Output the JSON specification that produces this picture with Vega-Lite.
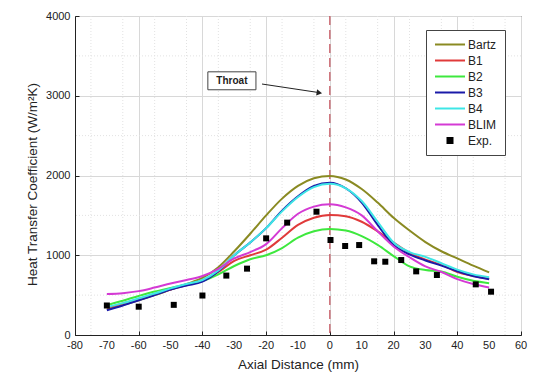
{
  "$schema": "https://vega.github.io/schema/vega-lite/v6.json",
  "width": 446,
  "height": 319,
  "autosize": {"type": "none"},
  "padding": {"left": 75, "top": 16, "right": 15, "bottom": 43},
  "background": "white",
  "config": {
    "font": "Liberation Sans",
    "view": {"stroke": "#222", "strokeWidth": 1},
    "axis": {"domainColor": "#222", "tickColor": "#222", "labelColor": "#222", "titleColor": "#222", "gridColor": "#d8d8d8", "labelFontSize": 11, "titleFontSize": 13.5, "titleFontWeight": "normal", "labelOverlap": false}
  },
  "datasets": {
    "curves": [
      {"s":"Bartz","x":-70,"v":320},{"s":"Bartz","x":-65,"v":375},{"s":"Bartz","x":-60,"v":435},{"s":"Bartz","x":-55,"v":500},{"s":"Bartz","x":-50,"v":570},{"s":"Bartz","x":-45,"v":640},{"s":"Bartz","x":-40,"v":715},{"s":"Bartz","x":-35,"v":850},{"s":"Bartz","x":-30,"v":1050},{"s":"Bartz","x":-25,"v":1270},{"s":"Bartz","x":-20,"v":1500},{"s":"Bartz","x":-15,"v":1710},{"s":"Bartz","x":-10,"v":1870},{"s":"Bartz","x":-5,"v":1965},{"s":"Bartz","x":0,"v":1995},{"s":"Bartz","x":5,"v":1950},{"s":"Bartz","x":10,"v":1830},{"s":"Bartz","x":15,"v":1660},{"s":"Bartz","x":20,"v":1470},{"s":"Bartz","x":25,"v":1310},{"s":"Bartz","x":30,"v":1165},{"s":"Bartz","x":35,"v":1050},{"s":"Bartz","x":40,"v":960},{"s":"Bartz","x":45,"v":870},{"s":"Bartz","x":50,"v":785},
      {"s":"B1","x":-70,"v":340},{"s":"B1","x":-65,"v":395},{"s":"B1","x":-60,"v":450},{"s":"B1","x":-55,"v":510},{"s":"B1","x":-50,"v":570},{"s":"B1","x":-45,"v":625},{"s":"B1","x":-40,"v":685},{"s":"B1","x":-35,"v":790},{"s":"B1","x":-30,"v":930},{"s":"B1","x":-25,"v":1000},{"s":"B1","x":-20,"v":1070},{"s":"B1","x":-15,"v":1220},{"s":"B1","x":-10,"v":1380},{"s":"B1","x":-5,"v":1470},{"s":"B1","x":0,"v":1505},{"s":"B1","x":5,"v":1490},{"s":"B1","x":10,"v":1420},{"s":"B1","x":15,"v":1300},{"s":"B1","x":20,"v":1160},{"s":"B1","x":25,"v":1030},{"s":"B1","x":30,"v":945},{"s":"B1","x":35,"v":880},{"s":"B1","x":40,"v":790},{"s":"B1","x":45,"v":740},{"s":"B1","x":50,"v":705},
      {"s":"B2","x":-70,"v":375},{"s":"B2","x":-65,"v":430},{"s":"B2","x":-60,"v":490},{"s":"B2","x":-55,"v":545},{"s":"B2","x":-50,"v":590},{"s":"B2","x":-45,"v":635},{"s":"B2","x":-40,"v":675},{"s":"B2","x":-35,"v":760},{"s":"B2","x":-30,"v":865},{"s":"B2","x":-25,"v":950},{"s":"B2","x":-20,"v":1000},{"s":"B2","x":-15,"v":1090},{"s":"B2","x":-10,"v":1220},{"s":"B2","x":-5,"v":1300},{"s":"B2","x":0,"v":1330},{"s":"B2","x":5,"v":1310},{"s":"B2","x":10,"v":1240},{"s":"B2","x":15,"v":1130},{"s":"B2","x":20,"v":990},{"s":"B2","x":25,"v":860},{"s":"B2","x":30,"v":815},{"s":"B2","x":35,"v":795},{"s":"B2","x":40,"v":730},{"s":"B2","x":45,"v":680},{"s":"B2","x":50,"v":650},
      {"s":"B3","x":-70,"v":310},{"s":"B3","x":-65,"v":370},{"s":"B3","x":-60,"v":435},{"s":"B3","x":-55,"v":500},{"s":"B3","x":-50,"v":570},{"s":"B3","x":-45,"v":620},{"s":"B3","x":-40,"v":670},{"s":"B3","x":-35,"v":800},{"s":"B3","x":-30,"v":1000},{"s":"B3","x":-25,"v":1160},{"s":"B3","x":-20,"v":1340},{"s":"B3","x":-15,"v":1560},{"s":"B3","x":-10,"v":1740},{"s":"B3","x":-5,"v":1870},{"s":"B3","x":0,"v":1910},{"s":"B3","x":5,"v":1840},{"s":"B3","x":10,"v":1660},{"s":"B3","x":15,"v":1380},{"s":"B3","x":20,"v":1130},{"s":"B3","x":25,"v":1010},{"s":"B3","x":30,"v":935},{"s":"B3","x":35,"v":870},{"s":"B3","x":40,"v":800},{"s":"B3","x":45,"v":740},{"s":"B3","x":50,"v":700},
      {"s":"B4","x":-70,"v":350},{"s":"B4","x":-65,"v":400},{"s":"B4","x":-60,"v":460},{"s":"B4","x":-55,"v":520},{"s":"B4","x":-50,"v":585},{"s":"B4","x":-45,"v":640},{"s":"B4","x":-40,"v":690},{"s":"B4","x":-35,"v":810},{"s":"B4","x":-30,"v":1000},{"s":"B4","x":-25,"v":1160},{"s":"B4","x":-20,"v":1340},{"s":"B4","x":-15,"v":1550},{"s":"B4","x":-10,"v":1730},{"s":"B4","x":-5,"v":1855},{"s":"B4","x":0,"v":1895},{"s":"B4","x":5,"v":1840},{"s":"B4","x":10,"v":1680},{"s":"B4","x":15,"v":1420},{"s":"B4","x":20,"v":1160},{"s":"B4","x":25,"v":1040},{"s":"B4","x":30,"v":980},{"s":"B4","x":35,"v":900},{"s":"B4","x":40,"v":820},{"s":"B4","x":45,"v":760},{"s":"B4","x":50,"v":725},
      {"s":"BLIM","x":-70,"v":515},{"s":"BLIM","x":-65,"v":525},{"s":"BLIM","x":-60,"v":550},{"s":"BLIM","x":-55,"v":595},{"s":"BLIM","x":-50,"v":645},{"s":"BLIM","x":-45,"v":690},{"s":"BLIM","x":-40,"v":740},{"s":"BLIM","x":-35,"v":830},{"s":"BLIM","x":-30,"v":960},{"s":"BLIM","x":-25,"v":1040},{"s":"BLIM","x":-20,"v":1140},{"s":"BLIM","x":-15,"v":1340},{"s":"BLIM","x":-10,"v":1520},{"s":"BLIM","x":-5,"v":1610},{"s":"BLIM","x":0,"v":1640},{"s":"BLIM","x":5,"v":1600},{"s":"BLIM","x":10,"v":1500},{"s":"BLIM","x":15,"v":1300},{"s":"BLIM","x":20,"v":1110},{"s":"BLIM","x":25,"v":975},{"s":"BLIM","x":30,"v":860},{"s":"BLIM","x":35,"v":790},{"s":"BLIM","x":40,"v":700},{"s":"BLIM","x":45,"v":640},{"s":"BLIM","x":50,"v":595}
    ],
    "exp": [
      {"x":-70,"v":370},{"x":-60,"v":355},{"x":-49,"v":378},{"x":-40,"v":495},{"x":-32.5,"v":745},{"x":-26,"v":832},{"x":-20,"v":1212},{"x":-13.4,"v":1409},{"x":-4.2,"v":1546},{"x":0.2,"v":1191},{"x":4.8,"v":1116},{"x":9.2,"v":1128},{"x":13.9,"v":924},{"x":17.4,"v":919},{"x":22.4,"v":940},{"x":27.1,"v":798},{"x":33.6,"v":752},{"x":45.8,"v":635},{"x":50.6,"v":543}
    ],
    "xlabels": [
      {"x":-80,"v":0,"t":"-80"},{"x":-70,"v":0,"t":"-70"},{"x":-60,"v":0,"t":"-60"},{"x":-50,"v":0,"t":"-50"},{"x":-40,"v":0,"t":"-40"},{"x":-30,"v":0,"t":"-30"},{"x":-20,"v":0,"t":"-20"},{"x":-10,"v":0,"t":"-10"},{"x":0,"v":0,"t":"0"},{"x":10,"v":0,"t":"10"},{"x":20,"v":0,"t":"20"},{"x":30,"v":0,"t":"30"},{"x":40,"v":0,"t":"40"},{"x":50,"v":0,"t":"50"},{"x":60,"v":0,"t":"60"}
    ]
  },
  "layer": [
    {
      "data": {"values": [{"x": -75}, {"x": -65}, {"x": -55}, {"x": -45}, {"x": -35}, {"x": -25}, {"x": -15}, {"x": -5}, {"x": 5}, {"x": 15}, {"x": 25}, {"x": 35}, {"x": 45}, {"x": 55}]},
      "mark": {"type": "rule", "color": "#e2e2e2", "strokeDash": [1, 2], "strokeWidth": 1},
      "encoding": {"x": {"field": "x", "type": "quantitative", "scale": {"domain": [-80, 60], "nice": false},
        "axis": {"title": "Axial Distance (mm)", "values": [-80,-70,-60,-50,-40,-30,-20,-10,0,10,20,30,40,50,60],
          "labels": false, "tickSize": -4, "titleY": 22, "titleBaseline": "top"}}}
    },
    {
      "data": {"values": [{"v": 500}, {"v": 1500}, {"v": 2500}, {"v": 3500}]},
      "mark": {"type": "rule", "color": "#e2e2e2", "strokeDash": [1, 2], "strokeWidth": 1},
      "encoding": {"y": {"field": "v", "type": "quantitative", "scale": {"domain": [0, 4000], "nice": false},
        "axis": {"title": "Heat Transfer Coefficient (W/m²K)", "values": [0,1000,2000,3000,4000],
          "labelOverlap": false, "format": "d", "tickSize": -4, "labelPadding": 9,
          "titleX": -43, "titleY": 168, "titleBaseline": "middle", "titleAngle": -90, "titleAlign": "center"}}}
    },
    {
      "data": {"name": "xlabels"},
      "mark": {"type": "text", "fontSize": 11, "color": "#222", "dy": 11, "baseline": "middle", "clip": false},
      "encoding": {"x": {"field": "x", "type": "quantitative"}, "y": {"field": "v", "type": "quantitative"}, "text": {"field": "t"}}
    },
    {
      "data": {"values": [{"x": 0}]},
      "mark": {"type": "rule", "color": "#c04a55", "strokeDash": [9, 5], "strokeWidth": 1.2},
      "encoding": {"x": {"field": "x", "type": "quantitative"}}
    },
    {
      "data": {"name": "curves"},
      "mark": {"type": "line", "interpolate": "monotone", "strokeWidth": 2},
      "encoding": {
        "x": {"field": "x", "type": "quantitative"},
        "y": {"field": "v", "type": "quantitative"},
        "color": {"field": "s", "type": "nominal",
          "scale": {"domain": ["Bartz","B1","B2","B3","B4","BLIM","Exp."], "range": ["#8a8a22","#e03a3a","#3ee83e","#1a1aa8","#3ee6e6","#d43ad4","#000000"]},
          "legend": {"orient": "none", "legendX": 351, "legendY": 14, "title": null, "strokeColor": "#444", "fillColor": "white", "padding": 8,
            "symbolType": "stroke", "symbolSize": 900, "symbolStrokeWidth": 2, "labelFontSize": 12, "labelOffset": 2, "rowPadding": 3, "clipHeight": 13, "labelColor": "#222",
            "encode": {"symbols": {"update": {
              "shape": {"signal": "datum.value === 'Exp.' ? 'square' : 'stroke'"},
              "size": {"signal": "datum.value === 'Exp.' ? 25 : 900"},
              "fill": {"signal": "datum.value === 'Exp.' ? 'black' : 'transparent'"}}}}}}
      }
    },
    {
      "data": {"name": "exp"},
      "mark": {"type": "point", "shape": "square", "filled": true, "color": "black", "size": 36, "opacity": 1},
      "encoding": {
        "x": {"field": "x", "type": "quantitative"},
        "y": {"field": "v", "type": "quantitative"}
      }
    },
    {
      "data": {"values": [{"x1": -38.3, "x2": -23.2, "y1": 3075, "y2": 3300}]},
      "mark": {"type": "rect", "fill": "white", "stroke": "#444", "strokeWidth": 1},
      "encoding": {"x": {"field": "x1", "type": "quantitative"}, "x2": {"field": "x2"}, "y": {"field": "y1", "type": "quantitative"}, "y2": {"field": "y2"}}
    },
    {
      "data": {"values": [{"x": -30.75, "v": 3187, "t": "Throat"}]},
      "mark": {"type": "text", "fontWeight": "bold", "fontSize": 10, "color": "#222"},
      "encoding": {"x": {"field": "x", "type": "quantitative"}, "y": {"field": "v", "type": "quantitative"}, "text": {"field": "t"}}
    },
    {
      "data": {"values": [{"x1": -21.3, "y1": 3147, "x2": -3.5, "y2": 3040}]},
      "mark": {"type": "rule", "color": "#222", "strokeWidth": 1},
      "encoding": {"x": {"field": "x1", "type": "quantitative"}, "y": {"field": "y1", "type": "quantitative"}, "x2": {"field": "x2"}, "y2": {"field": "y2"}}
    },
    {
      "data": {"values": [{"x": -3.3, "v": 3036}]},
      "mark": {"type": "point", "shape": "triangle-right", "filled": true, "color": "#222", "size": 40, "angle": 8.5, "opacity": 1},
      "encoding": {"x": {"field": "x", "type": "quantitative"}, "y": {"field": "v", "type": "quantitative"}}
    }
  ]
}
